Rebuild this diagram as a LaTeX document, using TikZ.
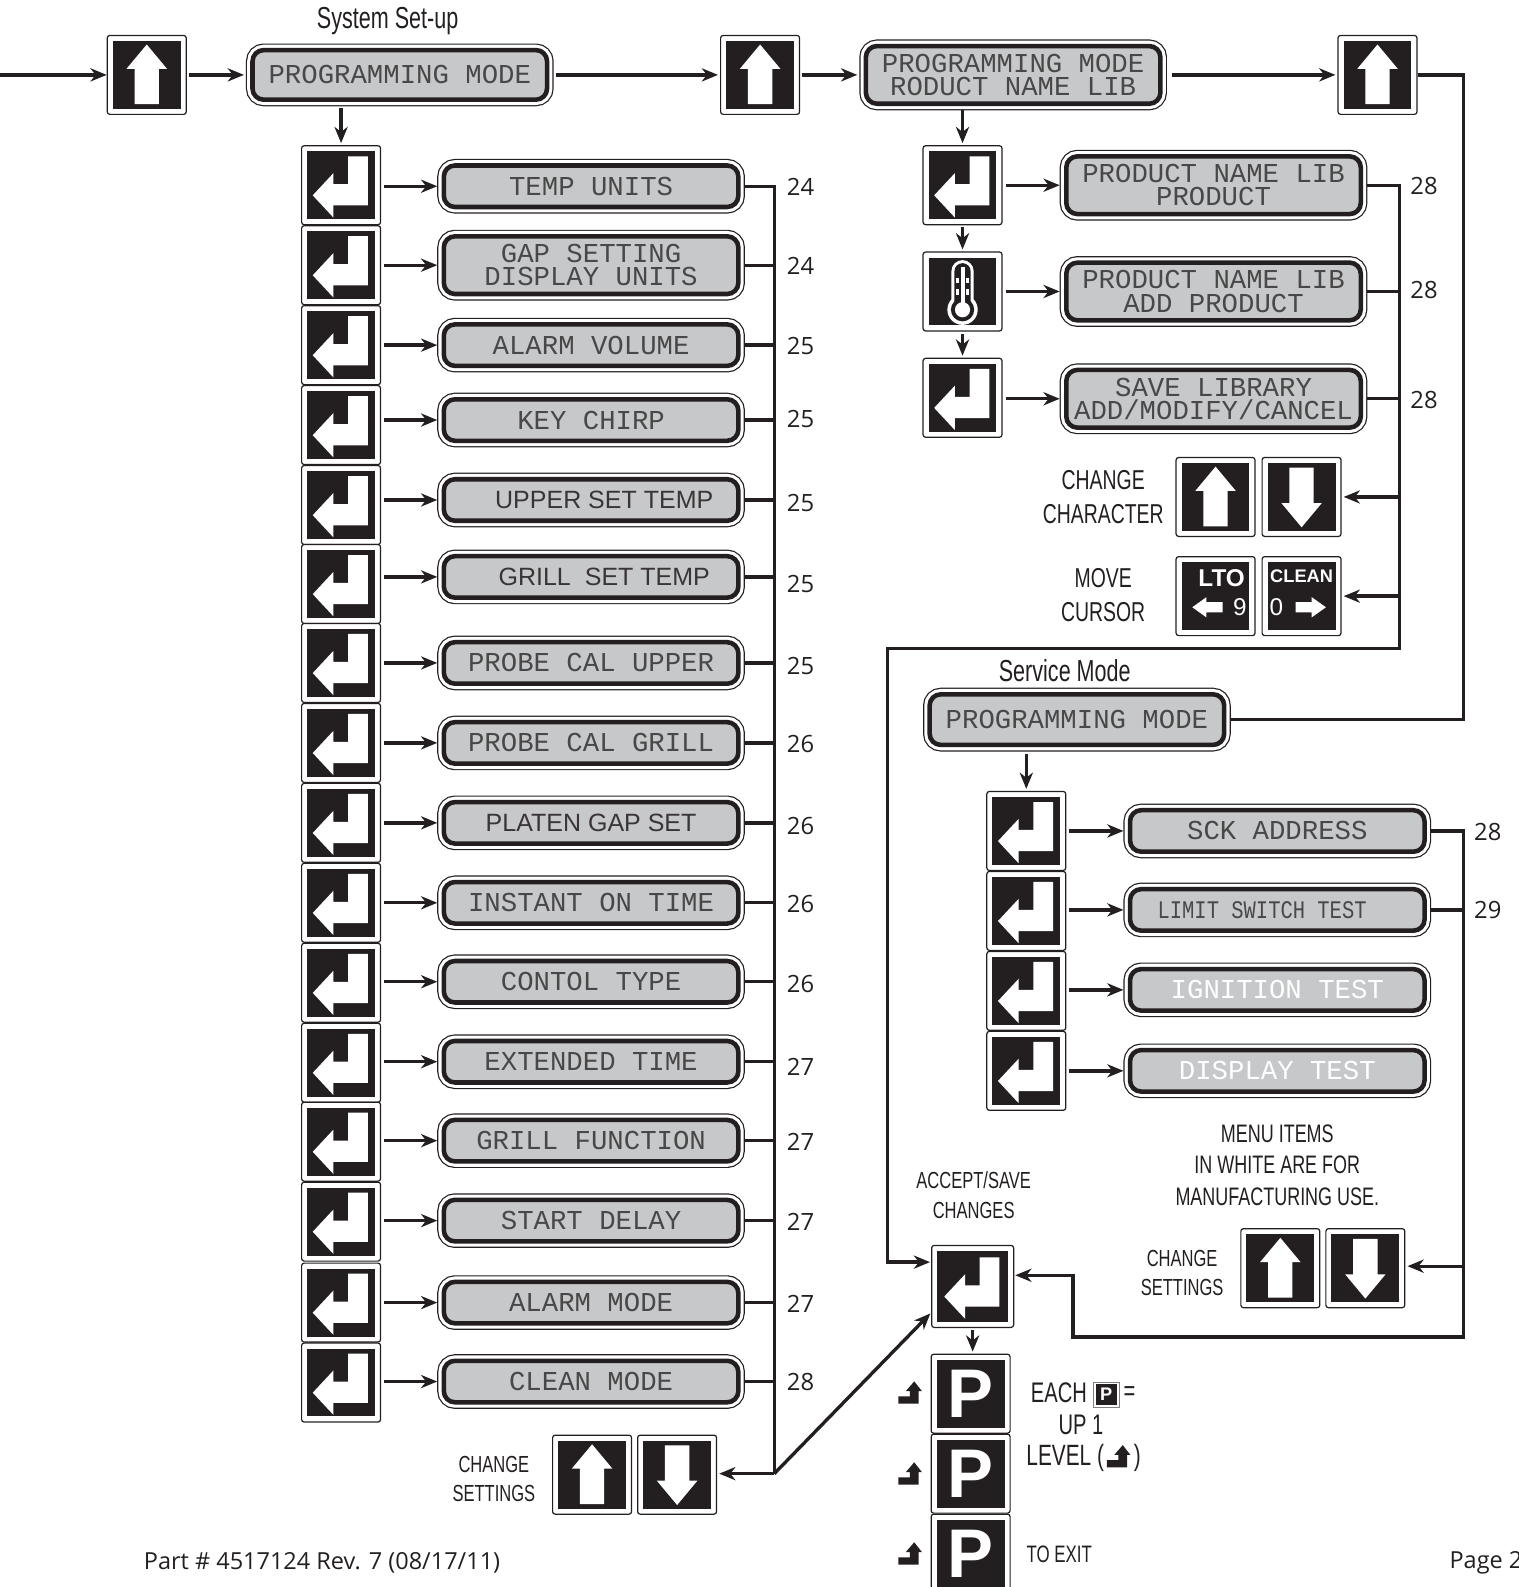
\documentclass[tikz,border=0pt]{standalone}
\usepackage{fontspec}
\usepackage{xcolor}
\usetikzlibrary{arrows.meta}
\newfontfamily\lcdfont{Liberation Mono}
\newfontfamily\lcdnarrow[FakeStretch=0.81]{Liberation Mono}
\newfontfamily\armfont{Liberation Sans}
\newfontfamily\condfont[FakeStretch=0.71]{Liberation Sans}
\newfontfamily\numfont{Open Sans}
\definecolor{ink}{HTML}{231F20}
\definecolor{lcdgray}{HTML}{C7C8CA}
\definecolor{lcdink}{HTML}{484848}
\newcommand{\keyback}[1]{\fill[ink,sharp corners] ([shift={(#1,#1)}]path picture bounding box.south west) rectangle ([shift={(-#1,-#1)}]path picture bounding box.north east);}
\tikzset{keybox/.style={draw=ink,line width=1.2pt,rounded corners=2.5pt,fill=white,minimum width=78pt,minimum height=78pt,inner sep=0pt,outer sep=0.6pt},
  plainkey/.style={keybox,path picture={\keyback{5.5pt}}},
  entkey/.style={keybox,path picture={\keyback{5.5pt}
    \fill[white,sharp corners,shift={(path picture bounding box.center)}] (-28,10)--(-7.5,-12)--(-7.5,-1)--(7,-1)--(7,-28.6)--(26.4,-28.6)--(26.4,20)--(-7.5,20)--(-7.5,32)--cycle;}},
  upkey/.style={keybox,path picture={\keyback{5.5pt}
    \fill[white,sharp corners,shift={(path picture bounding box.center)}] (0,-30)--(20,-6)--(12,-6)--(12,29)--(-12,29)--(-12,-6)--(-20,-6)--cycle;}},
  downkey/.style={keybox,path picture={\keyback{5.5pt}
    \fill[white,sharp corners,shift={(path picture bounding box.center)}] (0,30)--(20,6)--(12,6)--(12,-29)--(-12,-29)--(-12,6)--(-20,6)--cycle;}},
  thermkey/.style={keybox,path picture={\keyback{5.5pt}
    \begin{scope}[sharp corners,shift={(path picture bounding box.center)}]
    \fill[white] (-11,8) -- (-11,-20) arc[start angle=180,end angle=360,radius=11] -- (11,8) -- cycle;
    \fill[white] (0,18) circle[radius=15pt];
    \fill[ink] (-8,10) -- (-8,-20) arc[start angle=180,end angle=360,radius=8] -- (8,10) -- cycle;
    \fill[ink] (0,18) circle[radius=11.5pt];
    \fill[white] (0,18) circle[radius=7.5pt];
    \fill[white] (-2,-24) rectangle (2,14);
    \fill[white] (-6.5,-13) rectangle (-3.5,-8);
    \fill[white] (3.5,-13) rectangle (6.5,-8);
    \fill[white] (-6.5,-2) rectangle (-3.5,3);
    \fill[white] (3.5,-2) rectangle (6.5,3);
    \end{scope}}},
  pkey/.style={plainkey,text=white,font=\armfont\bfseries\fontsize{68}{68}\selectfont},
  lcd/.style={draw=ink,line width=4.5pt,rounded corners=11pt,fill=lcdgray,
    preaction={draw=ink,line width=13pt},preaction={draw=white,line width=10.6pt},
    minimum width=291pt,minimum height=41pt,inner sep=0pt,outer sep=6.5pt,align=center,
    text=lcdink,font=\lcdfont\fontsize{27}{23}\selectfont},
  lcdtall/.style={lcd,minimum height=57pt},
  lcdsans/.style={lcd,text=ink!90,font=\armfont\fontsize{24.7}{26}\selectfont},
  lcdpale/.style={lcd,text=white},
  pagenum/.style={text=ink,font=\numfont\fontsize{23.5}{25}\selectfont},
  cond/.style={text=ink,align=center,inner sep=0pt,font=\condfont\fontsize{27}{33}\selectfont},
  condsmall/.style={text=ink,align=center,inner sep=0pt,font=\condfont\fontsize{23}{29}\selectfont},
  footer/.style={text=ink,anchor=west,inner sep=0pt,font=\numfont\fontsize{23.2}{25}\selectfont},
  wire/.style={draw=ink,line width=3.3pt},
  arr/.style={wire,-{Stealth[length=16pt,width=13pt,inset=5pt]}},
  lvlup/.pic={\fill[ink] (4.3,-11.2)--(11.8,-1.6)--(8.5,-1.6)--(8.5,10.9)--(-11.5,10.9)--(-11.5,3.6)--(0,3.6)--(0,-1.6)--(-4,-1.6)--cycle;}}

\begin{document}
\begin{tikzpicture}[x=1pt,y=-1pt]
\clip (0,0) rectangle (1500,1568);
% top row
\coordinate (feed) at (0,74);
\node[upkey] (ku1) at (145,74) {};
\node[lcd,minimum height=49pt] (sys) at (395,74) {PROGRAMMING MODE};
\node[cond,font=\condfont\fontsize{30}{30}\selectfont] (systitle) at (383,21) {System Set-up};
\node[upkey] (ku2) at (751,74) {};
\node[lcdtall] (lib) at (1001,74) {PROGRAMMING MODE\\RODUCT NAME LIB};
\node[upkey] (ku3) at (1361,74) {};
\draw[arr] (feed) -- (ku1.west);
\draw[arr,shorten <=2pt,shorten >=2pt] (ku1.east) -- (sys.west);
\draw[arr,shorten <=2pt,shorten >=2pt] (sys.east) -- (ku2.west);
\draw[arr,shorten <=2pt,shorten >=2pt] (ku2.east) -- (lib.west);
\draw[arr,shorten <=5pt,shorten >=2pt] (lib.east) -- (ku3.west);
% system set-up column
\coordinate (bt) at (765,184);
\coordinate (bb) at (765,1456);
\node[entkey] (e1) at (337,183) {};
\node[entkey] (e2) at (337,262) {};
\node[entkey] (e3) at (337,341) {};
\node[entkey] (e4) at (337,420) {};
\node[entkey] (e5) at (337,499) {};
\node[entkey] (e6) at (337,577) {};
\node[entkey] (e7) at (337,655) {};
\node[entkey] (e8) at (337,734) {};
\node[entkey] (e9) at (337,813) {};
\node[entkey] (e10) at (337,892) {};
\node[entkey] (e11) at (337,971) {};
\node[entkey] (e12) at (337,1050) {};
\node[entkey] (e13) at (337,1128) {};
\node[entkey] (e14) at (337,1207) {};
\node[entkey] (e15) at (337,1287) {};
\node[entkey] (e16) at (337,1366) {};
\node[lcd] (l1) at (584,184) {TEMP UNITS};
\node[lcdtall] (l2) at (584,262) {GAP SETTING\\DISPLAY UNITS};
\node[lcd] (l3) at (584,341) {ALARM VOLUME};
\node[lcd] (l4) at (584,415) {KEY CHIRP};
\node[lcdsans] (l5) at (584,494) {\hspace*{26pt}UPPER SET TEMP};
\node[lcdsans] (l6) at (584,570) {\hspace*{26pt}GRILL\hspace{7pt} SET TEMP};
\node[lcd] (l7) at (584,655) {PROBE CAL UPPER};
\node[lcd] (l8) at (584,734) {PROBE CAL GRILL};
\node[lcdsans] (l9) at (584,813) {PLATEN GAP SET};
\node[lcd] (l10) at (584,892) {INSTANT ON TIME};
\node[lcd] (l11) at (584,970) {CONTOL TYPE};
\node[lcd] (l12) at (584,1049) {EXTENDED TIME};
\node[lcd] (l13) at (584,1127) {GRILL FUNCTION};
\node[lcd] (l14) at (584,1206) {START DELAY};
\node[lcd] (l15) at (584,1287) {ALARM MODE};
\node[lcd] (l16) at (584,1365) {CLEAN MODE};
\node[pagenum] (p1) at (791,185) {24};
\node[pagenum] (p2) at (791,263) {24};
\node[pagenum] (p3) at (791,342) {25};
\node[pagenum] (p4) at (791,414) {25};
\node[pagenum] (p5) at (791,497) {25};
\node[pagenum] (p6) at (791,577) {25};
\node[pagenum] (p7) at (791,658) {25};
\node[pagenum] (p8) at (791,735) {26};
\node[pagenum] (p9) at (791,816) {26};
\node[pagenum] (p10) at (791,893) {26};
\node[pagenum] (p11) at (791,972) {26};
\node[pagenum] (p12) at (791,1054) {27};
\node[pagenum] (p13) at (791,1128) {27};
\node[pagenum] (p14) at (791,1207) {27};
\node[pagenum] (p15) at (791,1288) {27};
\node[pagenum] (p16) at (791,1365) {28};
\draw[arr,shorten >=2pt] (e1.south |- sys.south) ++(0,2) -- (e1.north);
\draw[arr,shorten <=3pt] (e1.east |- l1.west) -- (l1.west);
\draw[arr,shorten <=3pt] (e2.east |- l2.west) -- (l2.west);
\draw[arr,shorten <=3pt] (e3.east |- l3.west) -- (l3.west);
\draw[arr,shorten <=3pt] (e4.east |- l4.west) -- (l4.west);
\draw[arr,shorten <=3pt] (e5.east |- l5.west) -- (l5.west);
\draw[arr,shorten <=3pt] (e6.east |- l6.west) -- (l6.west);
\draw[arr,shorten <=3pt] (e7.east |- l7.west) -- (l7.west);
\draw[arr,shorten <=3pt] (e8.east |- l8.west) -- (l8.west);
\draw[arr,shorten <=3pt] (e9.east |- l9.west) -- (l9.west);
\draw[arr,shorten <=3pt] (e10.east |- l10.west) -- (l10.west);
\draw[arr,shorten <=3pt] (e11.east |- l11.west) -- (l11.west);
\draw[arr,shorten <=3pt] (e12.east |- l12.west) -- (l12.west);
\draw[arr,shorten <=3pt] (e13.east |- l13.west) -- (l13.west);
\draw[arr,shorten <=3pt] (e14.east |- l14.west) -- (l14.west);
\draw[arr,shorten <=3pt] (e15.east |- l15.west) -- (l15.west);
\draw[arr,shorten <=3pt] (e16.east |- l16.west) -- (l16.west);
\draw[wire] (l1.east) -- (bt) -- (bb);
\draw[wire] (l2.east) -- (l2.east -| bt);
\draw[wire] (l3.east) -- (l3.east -| bt);
\draw[wire] (l4.east) -- (l4.east -| bt);
\draw[wire] (l5.east) -- (l5.east -| bt);
\draw[wire] (l6.east) -- (l6.east -| bt);
\draw[wire] (l7.east) -- (l7.east -| bt);
\draw[wire] (l8.east) -- (l8.east -| bt);
\draw[wire] (l9.east) -- (l9.east -| bt);
\draw[wire] (l10.east) -- (l10.east -| bt);
\draw[wire] (l11.east) -- (l11.east -| bt);
\draw[wire] (l12.east) -- (l12.east -| bt);
\draw[wire] (l13.east) -- (l13.east -| bt);
\draw[wire] (l14.east) -- (l14.east -| bt);
\draw[wire] (l15.east) -- (l15.east -| bt);
\draw[wire] (l16.east) -- (l16.east -| bt);
\node[upkey] (ku4) at (585,1457) {};
\node[downkey] (kd4) at (669,1457) {};
\node[condsmall] (chg1) at (488,1461) {CHANGE\\SETTINGS};
\draw[arr,shorten >=2pt] (bb) -- (kd4.east |- bb);
% product name library
\node[entkey] (r1) at (951,183) {};
\node[thermkey] (r2) at (951,288) {};
\node[entkey] (r3) at (951,393) {};
\node[lcdtall] (n1) at (1199,183) {PRODUCT NAME LIB\\PRODUCT};
\node[lcdtall] (n2) at (1199,288) {PRODUCT NAME LIB\\ADD PRODUCT};
\node[lcdtall] (n3) at (1199,394) {SAVE LIBRARY\\ADD/MODIFY/CANCEL};
\node[pagenum] (q1) at (1407,184) {28};
\node[pagenum] (q2) at (1407,287) {28};
\node[pagenum] (q3) at (1407,395) {28};
\draw[arr,shorten >=2pt] (r1.north |- lib.south) -- (r1.north);
\draw[arr,shorten <=2pt,shorten >=2pt] (r1.south) -- (r2.north);
\draw[arr,shorten <=2pt,shorten >=2pt] (r2.south) -- (r3.north);
\draw[arr,shorten <=3pt] (r1.east |- n1.west) -- (n1.west);
\draw[arr,shorten <=3pt] (r2.east |- n2.west) -- (n2.west);
\draw[arr,shorten <=3pt] (r3.east |- n3.west) -- (n3.west);
\coordinate (rt) at (1383,183);
\coordinate (rb) at (1383,641);
\coordinate (rc) at (877,641);
\coordinate (rd) at (877,1247);
\draw[wire] (n2.east) -- (n2.east -| rt);
\draw[wire] (n3.east) -- (n3.east -| rt);
\node[upkey] (ku5) at (1201,491) {};
\node[downkey] (kd5) at (1286,491) {};
\node[plainkey] (klto) at (1201,589) {};
\node[plainkey] (kcln) at (1286,589) {};
\node[text=white,font=\armfont\bfseries\fontsize{24}{24}\selectfont] (tlto) at (1207,571) {LTO};
\node[text=white,font=\armfont\fontsize{24}{24}\selectfont] (t9) at (1225,600) {9};
\fill[white] (1178,600)--(1192,590)--(1192,595)--(1208,595)--(1208,605)--(1192,605)--(1192,610)--cycle;
\node[text=white,font=\armfont\bfseries\fontsize{18}{18}\selectfont] (tcln) at (1286,569) {CLEAN};
\node[text=white,font=\armfont\fontsize{24}{24}\selectfont] (t0) at (1261,600) {0};
\fill[white] (1310,600)--(1296,590)--(1296,595)--(1280,595)--(1280,605)--(1296,605)--(1296,610)--cycle;
\node[cond] (chgchar) at (1090,491) {CHANGE\\CHARACTER};
\node[cond] (movecur) at (1090,588) {MOVE\\CURSOR};
\draw[arr,shorten >=2pt] (rt |- kd5.east) -- (kd5.east);
\draw[arr,shorten >=2pt] (rt |- kcln.east) -- (kcln.east);
% service mode
\node[cond,font=\condfont\fontsize{30}{30}\selectfont] (svctitle) at (1052,663) {Service Mode};
\node[lcd,minimum height=50pt] (svc) at (1064,711) {PROGRAMMING MODE};
\draw[wire] (ku3.east) -- (1446,74) -- (1446,711) -- (svc.east);
\node[entkey] (s1) at (1014,821) {};
\node[entkey] (s2) at (1014,900) {};
\node[entkey] (s3) at (1014,979) {};
\node[entkey] (s4) at (1014,1058) {};
\node[lcd] (t1) at (1262,821) {SCK ADDRESS};
\node[lcd,font=\lcdnarrow\fontsize{25}{23}\selectfont] (t2) at (1262,899) {LIMIT SWITCH TEST\hspace*{30pt}};
\node[lcdpale] (t3) at (1262,978) {IGNITION TEST};
\node[lcdpale] (t4) at (1262,1058) {DISPLAY TEST};
\node[pagenum] (u1) at (1470,822) {28};
\node[pagenum] (u2) at (1470,899) {29};
\draw[arr,shorten <=2pt,shorten >=2pt] (s1.north |- svc.south) -- (s1.north);
\draw[arr,shorten <=3pt] (s1.east |- t1.west) -- (t1.west);
\draw[arr,shorten <=3pt] (s2.east |- t2.west) -- (t2.west);
\draw[arr,shorten <=3pt] (s3.east |- t3.west) -- (t3.west);
\draw[arr,shorten <=3pt] (s4.east |- t4.west) -- (t4.west);
\coordinate (sb) at (1446,821);
\coordinate (sc) at (1446,1251);
\draw[wire] (t2.east) -- (t2.east -| sb);
\node[cond,font=\condfont\fontsize{25}{31}\selectfont] (menunote) at (1262,1151) {MENU ITEMS\\IN WHITE ARE FOR\\MANUFACTURING USE.};
\node[upkey] (ku6) at (1265,1253) {};
\node[downkey] (kd6) at (1349,1253) {};
\node[condsmall] (chg2) at (1168,1258) {CHANGE\\SETTINGS};
\node[condsmall] (accept) at (962,1181) {ACCEPT/SAVE\\CHANGES};
\node[entkey,minimum width=81pt,minimum height=81pt] (ka) at (961,1271) {};
\draw[arr,shorten >=2pt] (sc) -- (sc -| kd6.east);
\draw[arr,shorten >=1pt] (t1.east) -- (sb) -- (1446,1321) -- (1060,1321) -- (1060,1260) -- (ka.east |- 0,1260);
\draw[arr,shorten >=1pt] (n1.east) -- (rt) -- (rb) -- (rc) -- (rd) -- (ka.west |- rd);
\draw[arr,shorten >=1pt] (bb) -- ([yshift=-26pt]ka.west);
% back out keys
\node[pkey] (p1k) at (959,1377) {P};
\node[pkey] (p2k) at (959,1456) {P};
\node[pkey] (p3k) at (959,1535) {P};
\draw[arr,shorten <=2pt,shorten >=2pt] (ka.south) -- (ka.south |- p1k.north);
\pic (lv1) at (899,1376) {lvlup};
\pic (lv2) at (899,1456) {lvlup};
\pic (lv3) at (899,1535) {lvlup};
\node[cond,anchor=east,font=\condfont\fontsize{28}{33}\selectfont] (each) at (1074,1376) {EACH};
\node[draw=gray,line width=0.8pt,fill=white,minimum width=25pt,minimum height=25pt,inner sep=0pt,text=white,
  font=\armfont\bfseries\fontsize{18}{18}\selectfont,path picture={\keyback{2pt}}] (psmall) at (1093,1378) {P};
\node[cond,anchor=west,font=\condfont\fontsize{28}{33}\selectfont] (eqs) at (1110,1377) {=};
\node[cond,font=\condfont\fontsize{28}{33}\selectfont] (upone) at (1068,1408) {UP 1};
\node[cond,anchor=east,font=\condfont\fontsize{29}{33}\selectfont] (level) at (1091,1440) {LEVEL (};
\pic (lv4) at (1105,1439) {lvlup};
\node[cond,anchor=west,font=\condfont\fontsize{29}{33}\selectfont] (levelend) at (1120,1440) {)};
\node[cond,font=\condfont\fontsize{23.5}{29}\selectfont,anchor=west] (toexit) at (1014,1536) {TO EXIT};
% footer
\node[footer] (partno) at (142,1544) {Part \# 4517124 Rev. 7 (08/17/11)};
\node[footer] (pageno) at (1432,1544) {Page 2};
\end{tikzpicture}
\end{document}
